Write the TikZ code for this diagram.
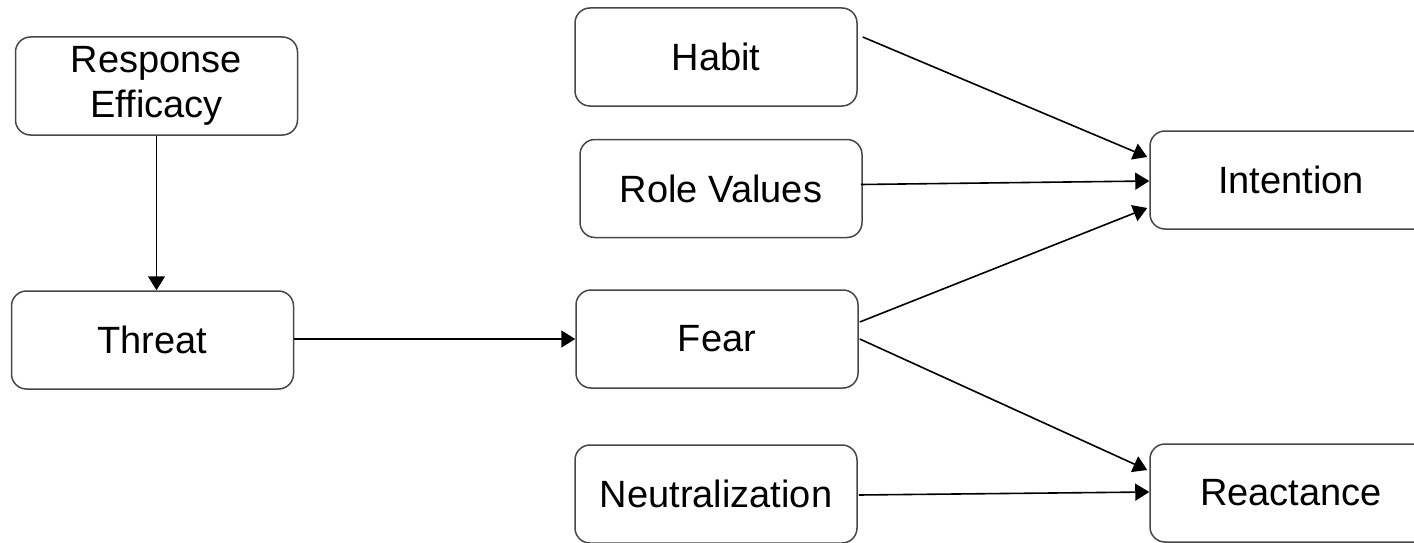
\documentclass[tikz,border=0pt]{standalone}
\usepackage{fontspec}
\setmainfont{Liberation Sans}
\usetikzlibrary{arrows.meta,calc}
\begin{document}
\begin{tikzpicture}[x=1pt,y=-1pt,
  box/.style={draw=black!72, line width=1.5pt, rounded corners=15pt,
    minimum width=282pt, minimum height=98pt, inner sep=0pt,
    align=center, font=\fontsize{38}{45}\selectfont},
  link/.style={line width=1.6pt, -{Triangle[length=14pt,width=17pt]}}]
\useasboundingbox (0,0) rectangle (1414,543);
\clip (0,0) rectangle (1414,543);

% left column
\node[box] (eff) at (156.5,86) {Response\\Efficacy};
\node[box] (threat) at (152.5,340) {Threat};

% middle column
\node[box] (habit) at (716,57) {Habit};
\node[box] (role) at (721,188.5) {Role Values};
\node[box] (fear) at (717,339) {Fear};
\node[box] (neut) at (716,494) {Neutralization};

% outcomes
\node[box] (intent) at (1291,180) {Intention};
\node[box] (react) at (1291,493) {Reactance};

% paths
\draw[link] (eff.south) -- (eff.south |- threat.north);
\draw[link] (threat.east |- fear.west) -- (fear.west);
\draw[link] ($(habit.east)+(5,-20)$) -- ($(intent.west)+(-2,-23)$);
\draw[link] ($(role.east)+(-2,-4)$) -- ($(intent.west)+(0,1)$);
\draw[link] ($(fear.east)+(1,-17)$) -- ($(intent.west)+(-2,28)$);
\draw[link] ($(fear.east)+(1,0)$) -- ($(react.west)+(-2,-23)$);
\draw[link] ($(neut.east)+(1,1)$) -- ($(react.west)+(0,-1)$);
\end{tikzpicture}
\end{document}
